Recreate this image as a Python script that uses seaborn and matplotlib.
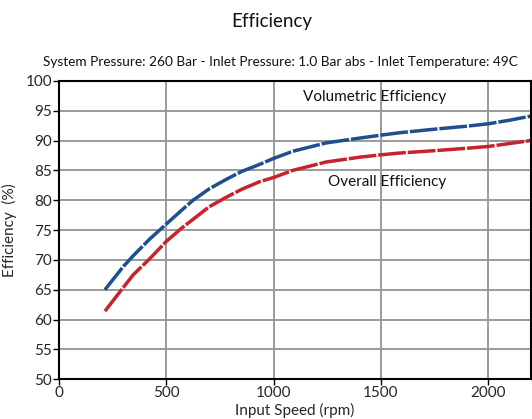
import matplotlib
matplotlib.use("Agg")
import matplotlib.pyplot as plt
import seaborn as sns
import pandas as pd

# Pump efficiency curves vs input speed
speed = [214, 300, 346, 423, 500, 571, 625, 700, 780, 850, 935, 1000,
         1090, 1245, 1400, 1500, 1586, 1750, 1900, 2000, 2100, 2200]
volumetric = [65.0, 68.9, 70.7, 73.5, 76.0, 78.3, 80.0, 81.9, 83.5, 84.8,
              86.0, 87.0, 88.2, 89.6, 90.4, 90.9, 91.3, 91.9, 92.4, 92.8,
              93.4, 94.1]
overall = [61.4, 65.4, 67.5, 70.2, 73.1, 75.3, 76.8, 78.9, 80.5, 81.8,
           83.1, 83.8, 85.0, 86.4, 87.2, 87.6, 87.9, 88.3, 88.7, 89.0,
           89.5, 90.0]

title = "Efficiency"
subtitle = ("System Pressure: 260 Bar - Inlet Pressure: 1.0 Bar abs - "
            "Inlet Temperature: 49C")
x_label = "Input Speed (rpm)"
y_label = "Efficiency  (%)"
x_ticks = [0, 500, 1000, 1500, 2000]
y_ticks = [50, 55, 60, 65, 70, 75, 80, 85, 90, 95, 100]

sns.set_theme(style="white")
plt.rcParams["font.family"] = ["Lato", "DejaVu Sans"]

df = pd.DataFrame({"speed": speed, "Volumetric": volumetric, "Overall": overall})

fig = plt.figure(figsize=(5.32, 4.19), dpi=100)
ax = fig.add_axes([0.111, 0.095, 0.887, 0.712])

blue = "#1f4f8e"
red = "#c8222c"
sns.lineplot(data=df, x="speed", y="Volumetric", ax=ax, color=blue,
             linewidth=2.5)
sns.lineplot(data=df, x="speed", y="Overall", ax=ax, color=red,
             linewidth=2.5)
for ln in ax.lines:
    ln.set_dashes((8, 0.55))
    ln.set_dash_capstyle("butt")

ax.set_xlim(0, 2200)
ax.set_ylim(50, 100)
ax.set_xticks(x_ticks)
ax.set_yticks(y_ticks)
ax.grid(True, color="#9a9a9a", linewidth=1.4)
ax.set_axisbelow(True)
for s in ax.spines.values():
    s.set_color("black")
    s.set_linewidth(1.5)
ax.tick_params(axis="both", which="major", direction="out", length=4,
               width=1.0, color="black", labelsize=11, pad=1,
               left=True, bottom=True)

ax.set_xlabel(x_label, fontsize=11, labelpad=2)
ax.set_ylabel(y_label, fontsize=11, labelpad=6)

ax.text(1470, 97.3, "Volumetric Efficiency", fontsize=11, ha="center",
        va="center", color="#111111")
ax.text(1530, 83.0, "Overall Efficiency", fontsize=11, ha="center",
        va="center", color="#111111")

fig.text(0.51, 0.948, title, fontsize=13.5, ha="center", va="center",
         color="#111111")
fig.text(0.528, 0.852, subtitle, fontsize=9.8, ha="center", va="center",
         color="#111111")

fig.savefig("out.png", dpi=100)
